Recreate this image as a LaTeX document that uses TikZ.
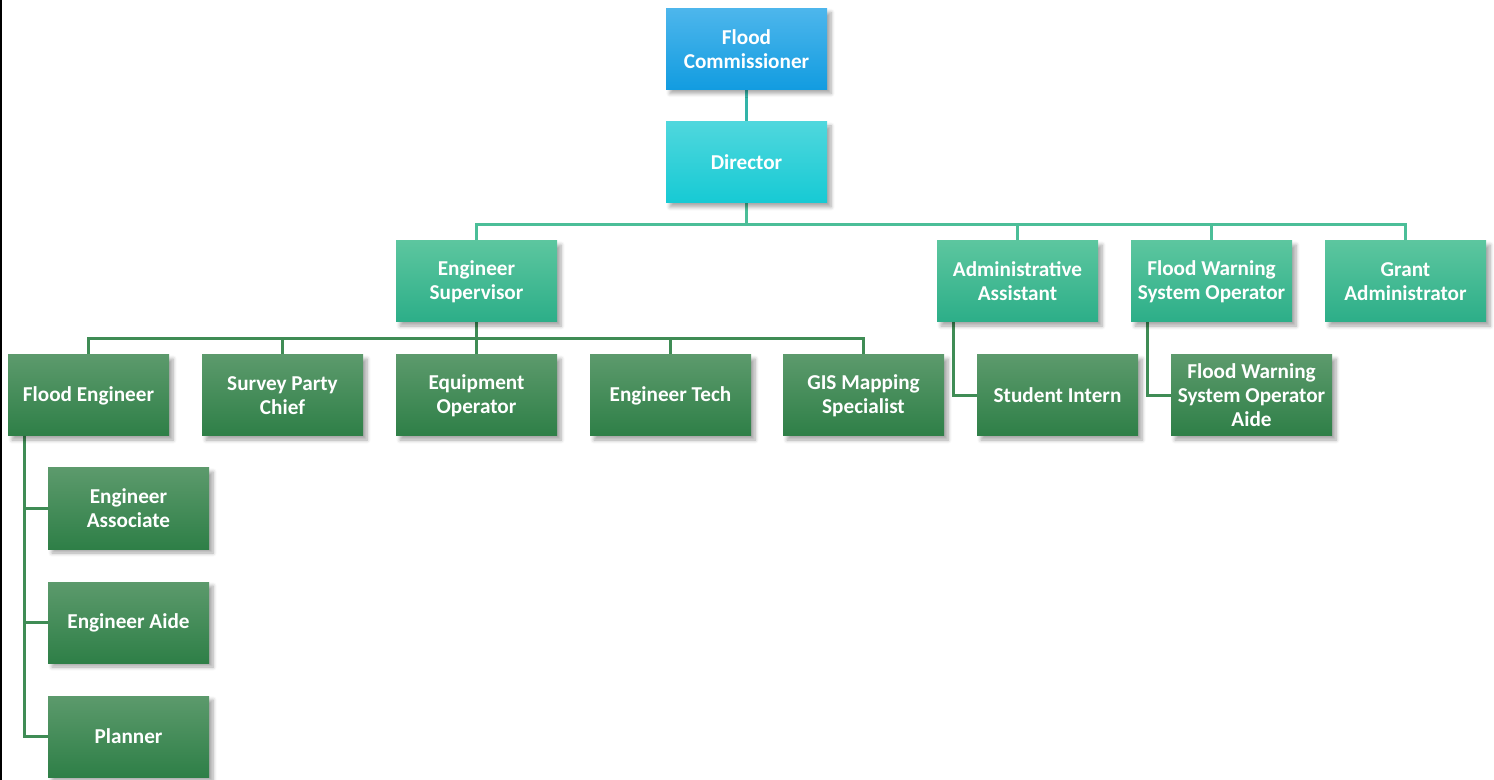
\documentclass[tikz,border=0pt]{standalone}
\usepackage{fontspec}
\setmainfont{Carlito}
\usetikzlibrary{shadows.blur,backgrounds}
\definecolor{blueTop}{HTML}{4DB6EC}
\definecolor{blueBot}{HTML}{129CE0}
\definecolor{cyanTop}{HTML}{4FD7DD}
\definecolor{cyanBot}{HTML}{16CAD4}
\definecolor{mintTop}{HTML}{5CC69F}
\definecolor{mintBot}{HTML}{2CAE88}
\definecolor{leafTop}{HTML}{5C9A6C}
\definecolor{leafBot}{HTML}{2E7F47}
\definecolor{lineTeal}{HTML}{33B4A8}
\definecolor{lineMint}{HTML}{4BBE98}
\definecolor{lineLeaf}{HTML}{3F8C55}
\tikzset{
  box/.style={rectangle, minimum width=80.5pt, minimum height=40.5pt,
    inner sep=1pt, align=center, text=white,
    font=\fontsize{10.6}{12}\selectfont\bfseries,
    blur shadow={shadow xshift=2pt, shadow yshift=-2pt, shadow blur steps=6, shadow opacity=35}},
  topbox/.style={box, top color=blueTop, bottom color=blueBot},
  dirbox/.style={box, top color=cyanTop, bottom color=cyanBot},
  midbox/.style={box, top color=mintTop, bottom color=mintBot},
  leafbox/.style={box, top color=leafTop, bottom color=leafBot},
  link/.style={line width=1.5pt},
}
\begin{document}
\begin{tikzpicture}[x=0.5pt,y=-0.5pt]
\useasboundingbox (0,0) rectangle (1494,780);
\fill[black] (0,0) rectangle (2,780);

% boxes
\node[topbox]  (fc)   at (746.5,49)   {Flood\\Commissioner};
\node[dirbox]  (dir)  at (746.5,162.5) {Director};
\node[midbox]  (es)   at (476.5,281.5) {Engineer\\Supervisor};
\node[midbox]  (aa)   at (1017.5,281.5) {Administrative\\Assistant};
\node[midbox]  (fws)  at (1211.5,281.5) {Flood Warning\\System Operator};
\node[midbox]  (ga)   at (1405.5,281.5) {Grant\\Administrator};
\node[leafbox] (fe)   at (88.5,395.5) {Flood Engineer};
\node[leafbox] (spc)  at (282.5,395.5) {Survey Party\\Chief};
\node[leafbox] (eo)   at (476.5,395.5) {Equipment\\Operator};
\node[leafbox] (et)   at (670.5,395.5) {Engineer Tech};
\node[leafbox] (gis)  at (863.5,395.5) {GIS Mapping\\Specialist};
\node[leafbox] (si)   at (1057.5,395.5) {Student Intern};
\node[leafbox] (fwa)  at (1251.5,395.5) {Flood Warning\\System Operator\\Aide};
\node[leafbox] (ea)   at (128.5,508.5) {Engineer\\Associate};
\node[leafbox] (eaid) at (128.5,622.5) {Engineer Aide};
\node[leafbox] (pl)   at (128.5,736.5) {Planner};

% connectors, kept behind the boxes
\begin{scope}[on background layer]
  \draw[link, lineTeal] (fc.south) -- (dir.north);
  \draw[link, lineMint] (dir.south) -- ++(0,21) coordinate (busA);
  \foreach \n in {es,aa,fws,ga}
    \draw[link, lineMint] (\n.north) |- (busA);
  \draw[link, lineLeaf] (es.south) -- ++(0,16) coordinate (busB);
  \foreach \n in {fe,spc,eo,et,gis}
    \draw[link, lineLeaf] (\n.north) |- (busB);
  \draw[link, lineLeaf] ([xshift=8.5pt]aa.south west) |- (si.west);
  \draw[link, lineLeaf] ([xshift=8.5pt]fws.south west) |- (fwa.west);
  \foreach \n in {ea,eaid,pl}
    \draw[link, lineLeaf] ([xshift=8.5pt]fe.south west) |- (\n.west);
\end{scope}
\end{tikzpicture}
\end{document}
